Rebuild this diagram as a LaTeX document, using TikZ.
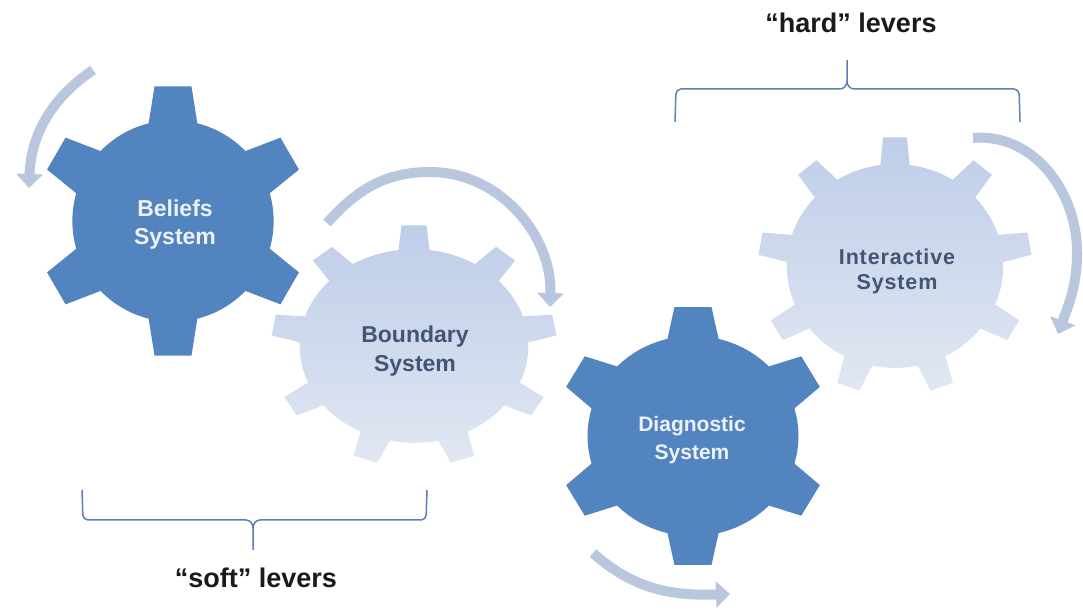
\documentclass[tikz,border=0pt]{standalone}
\usepackage{fontspec}
\setmainfont{Liberation Sans}
\usetikzlibrary{arrows.meta}
\definecolor{darkgear}{RGB}{82,132,192}
\definecolor{lighttop}{RGB}{190,205,233}
\definecolor{lightbot}{RGB}{225,231,242}
\definecolor{arrowcol}{RGB}{184,199,222}
\definecolor{bracecol}{RGB}{95,128,178}
\definecolor{lighttext}{RGB}{66,86,116}
\definecolor{darktext}{RGB}{236,241,250}
\definecolor{leveltext}{RGB}{26,26,26}
% #1 center, #2 x radius, #3 y radius, #4 teeth, #5 body ratio, #6 tip half angle, #7 base half angle, #8 draw options
\newcommand{\mygearshape}[8]{%
  \pgfmathsetmacro{\gstep}{360/#4}%
  \begin{scope}[shift={#1}, xscale=#2, yscale=#3]
    \path[#8] ({90-#7}:#5)
      \foreach \k in {1,...,#4} {
        -- ({90+(\k-1)*\gstep-#6}:1)
        -- ({90+(\k-1)*\gstep+#6}:1)
        -- ({90+(\k-1)*\gstep+#7}:#5)
        arc[start angle={90+(\k-1)*\gstep+#7}, end angle={90+\k*\gstep-#7}, radius=#5]
      } -- cycle;
  \end{scope}}
\tikzset{
  darkfill/.style={fill=darkgear},
  lightfill/.style={top color=lighttop, bottom color=lightbot, shading angle=0},
  turnarrow/.style={draw=arrowcol, line width=10pt, -{Triangle[width=26pt,length=14pt]}},
  bracestyle/.style={draw=bracecol, line width=1.5pt},
  darklabel/.style={text=darktext, font=\bfseries\fontsize{23}{28}\selectfont, align=center},
  lightlabel/.style={text=lighttext, font=\bfseries\fontsize{23}{29}\selectfont, align=center},
  levellabel/.style={text=leveltext, font=\bfseries\fontsize{27}{30}\selectfont, anchor=base}
}
\begin{document}
\begin{tikzpicture}[x=1pt, y=1pt]
\useasboundingbox (0,0) rectangle (1083,612);
\fill[white] (0,0) rectangle (1083,612);

% light gears
\mygearshape{(414,266)}{143}{121}{9}{0.80}{5}{7.8}{lightfill}
\mygearshape{(895,346)}{137}{129}{9}{0.79}{5}{7.8}{lightfill}
% dark gears
\mygearshape{(173,391)}{136}{136}{6}{0.74}{7.8}{14}{darkfill}
\mygearshape{(693,176)}{137}{130}{6}{0.77}{7.8}{14}{darkfill}

% labels
\node[darklabel] (beliefs) at (175,387) {Beliefs\\System};
\node[lightlabel] (boundary) at (415,261) {Boundary\\System};
\node[darklabel, font=\bfseries\fontsize{21}{28}\selectfont] (diagnostic) at (692,172) {Diagnostic\\System};
\node[lightlabel, font=\bfseries\fontsize{21.5}{25}\selectfont\addfontfeatures{LetterSpace=4}] (interactive) at (897,341) {Interactive\\System};

% rotation arrows
\coordinate (a1s) at (93,542);  \coordinate (a1e) at (29,424);
\coordinate (a2s) at (327,389); \coordinate (a2m) at (430,440); \coordinate (a2e) at (550,305);
\coordinate (a3s) at (593,59);  \coordinate (a3e) at (730,18);
\coordinate (a4s) at (973,474); \coordinate (a4e) at (1058,278);
\draw[turnarrow] (a1s) .. controls (52,514) and (31,478) .. (a1e);
\draw[turnarrow] (a2s) to[out=48,in=180] (a2m) to[out=0,in=88] (a2e);
\draw[turnarrow] (a3s) to[out=-42,in=182] (a3e);
\draw[turnarrow] (a4s) to[out=5,in=90] (1077,360) to[out=-90,in=70] (a4e);

% braces
\coordinate (hl) at (675,490); \coordinate (hr) at (1020,490); \coordinate (htip) at (847,552);
\draw[bracestyle] (hl) [rounded corners=5pt] -- (676,523) [sharp corners] -- (840,523)
  to[out=0,in=-90] (847,531) -- (htip)
  (847,531) to[out=-90,in=180] (854,523) [rounded corners=5pt] -- (1019,523) -- (hr);
\coordinate (sl) at (82,122); \coordinate (sr) at (427,122); \coordinate (stip) at (253,62);
\draw[bracestyle] (sl) [rounded corners=5pt] -- (83,92) [sharp corners] -- (246,92)
  to[out=0,in=90] (253,84) -- (stip)
  (253,84) to[out=90,in=180] (260,92) [rounded corners=5pt] -- (426,92) -- (sr);

\node[levellabel] (hard) at (851,579) {“hard” levers};
\node[levellabel] (soft) at (256,24) {“soft” levers};
\end{tikzpicture}
\end{document}
